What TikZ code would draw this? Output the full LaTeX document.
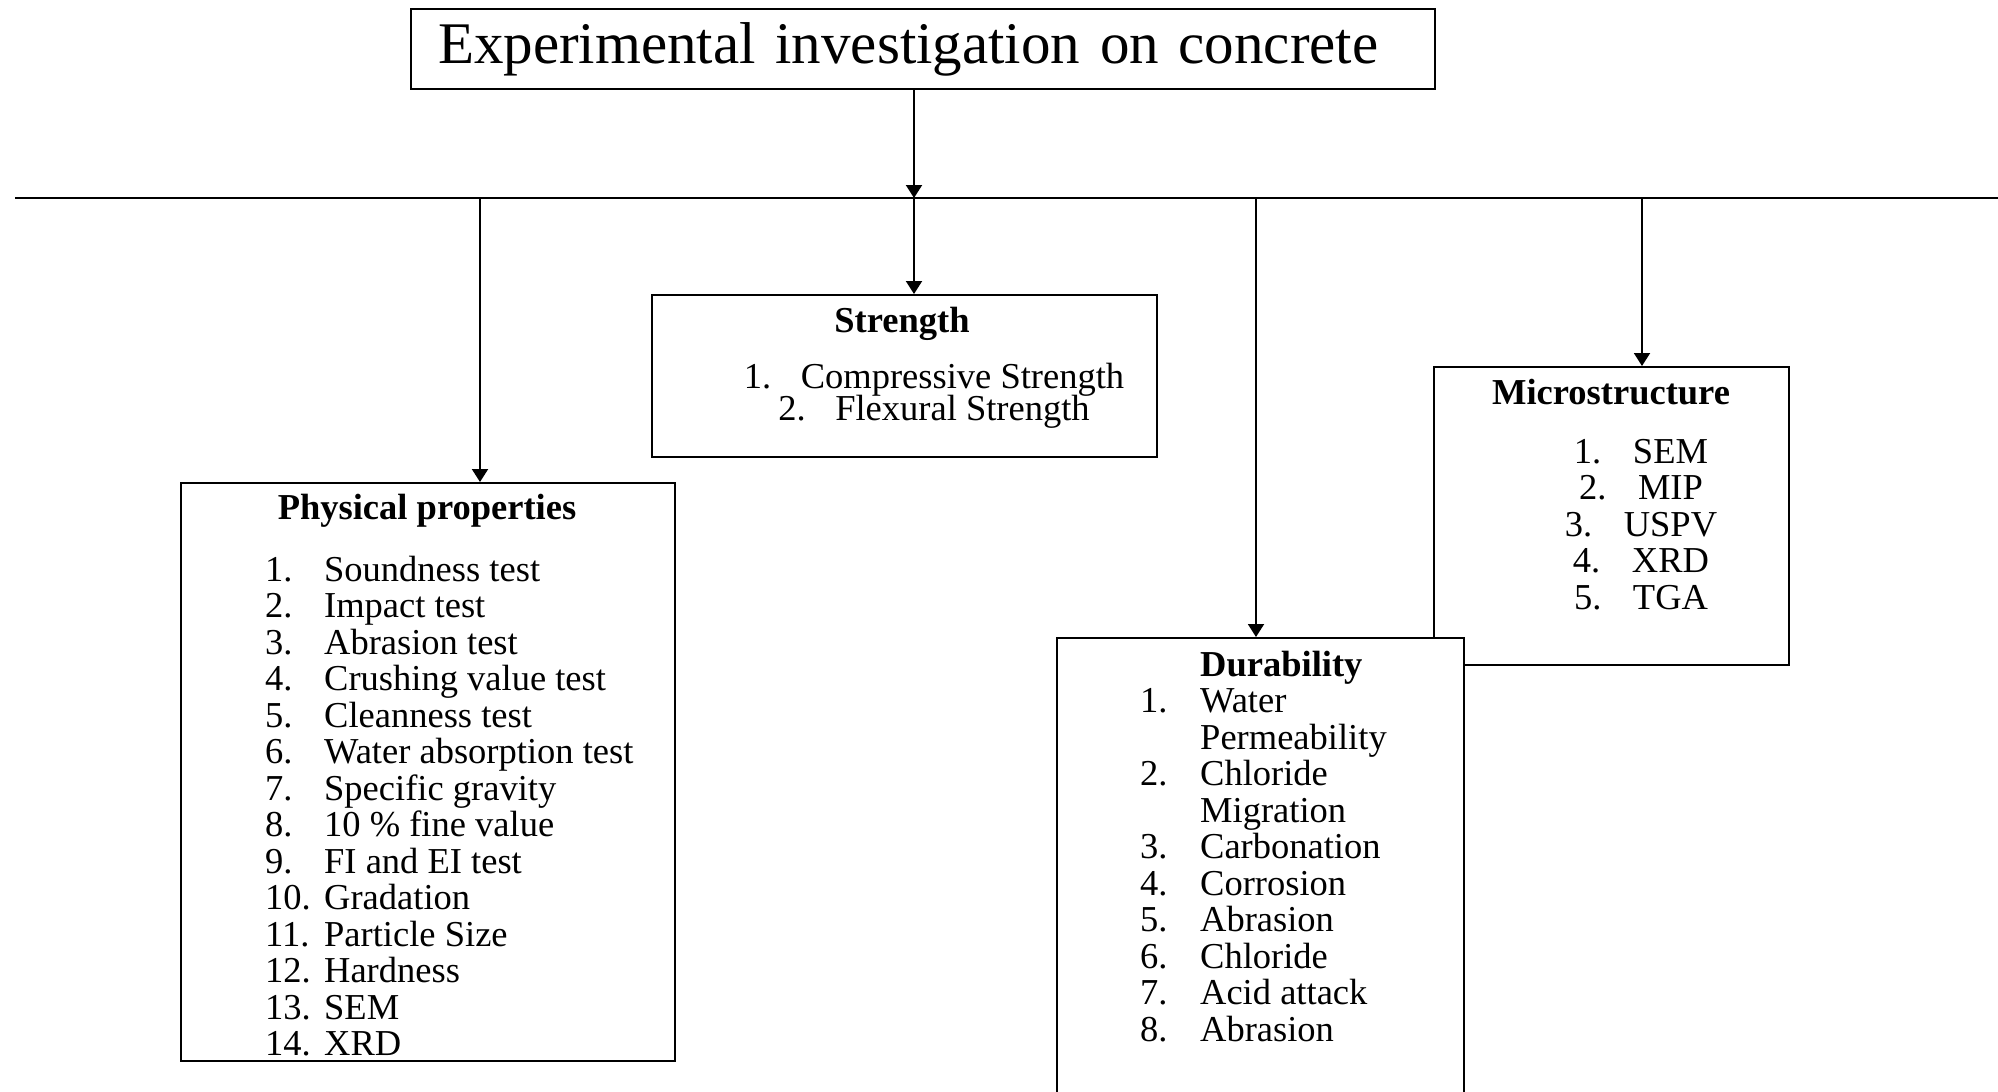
\documentclass[tikz,border=0pt]{standalone}
\usepackage{fontspec}
\setmainfont{Liberation Serif}
\usetikzlibrary{arrows.meta}

\begin{document}
\begin{tikzpicture}[x=1pt,y=-1pt,
        caja/.style={draw,line width=2pt,fill=white,anchor=north west,inner sep=0pt},
        linea/.style={line width=2pt},
        flecha/.style={line width=2pt,-{Triangle[length=13pt,width=16pt]}},
        texto/.style={inner sep=0pt,font=\fontsize{36.5}{36.5}\selectfont},
        negrita/.style={inner sep=0pt,font=\fontsize{36.5}{36.5}\selectfont\bfseries}] %Ensayos sobre hormigon
            \useasboundingbox (0,0) rectangle (1998,1092);
            \clip (0,0) rectangle (1998,1092);

            \node[caja,minimum width=1024pt,minimum height=80pt,text width=970pt,align=left,
                inner xsep=27pt,font=\fontsize{59}{60}\selectfont] (tit) at (410,8) {Experimental investigation on concrete};

            \coordinate (izq) at (15,198);
            \coordinate (der) at (1998,198);
            \coordinate (b1) at (480,198);
            \coordinate (b2) at (914,198);
            \coordinate (b3) at (1256,198);
            \coordinate (b4) at (1642,198);

            \draw[linea] (izq) -- (der);
            \draw[flecha] (tit.south -| b2) -- (b2);

            % cajas
            \node[caja,minimum width=494pt,minimum height=578pt] (fis) at (180,482) {};
            \node[caja,minimum width=505pt,minimum height=162pt] (res) at (651,294) {};
            \node[caja,minimum width=355pt,minimum height=298pt] (mic) at (1433,366) {};
            \node[caja,minimum width=407pt,minimum height=470pt] (dur) at (1056,637) {};

            \draw[flecha] (b1) -- (b1 |- fis.north);
            \draw[flecha] (b2) -- (b2 |- res.north);
            \draw[flecha] (b3) -- (b3 |- dur.north);
            \draw[flecha] (b4) -- (b4 |- mic.north);

            % propiedades fisicas
            \node[negrita,anchor=base] (fis-t) at (427,519) {Physical properties};
            \node[texto,anchor=base west] (fis-l) at (265,581) {\begin{tabular}[t]{@{}p{59pt}@{}l@{}}
                1. & Soundness test\\
                2. & Impact test\\
                3. & Abrasion test\\
                4. & Crushing value test\\
                5. & Cleanness test\\
                6. & Water absorption test\\
                7. & Specific gravity\\
                8. & 10 \% fine value\\
                9. & FI and EI test\\
                10. & Gradation\\
                11. & Particle Size\\
                12. & Hardness\\
                13. & SEM\\
                14. & XRD
            \end{tabular}};

            % resistencia
            \node[negrita,anchor=base] (res-t) at (902,332) {Strength};
            \node[texto,anchor=base] (res-l) at (934,388) {\begin{tabular}[t]{@{}c@{}}
                \makebox[57pt][l]{1.}Compressive Strength\\[-4.5pt]
                \makebox[57pt][l]{2.}Flexural Strength
            \end{tabular}};

            % microestructura
            \node[negrita,anchor=base] (mic-t) at (1611,404) {Microstructure};
            \node[texto,anchor=base] (mic-l) at (1641,463) {\begin{tabular}[t]{@{}c@{}}
                \makebox[59pt][l]{1.}SEM\\
                \makebox[59pt][l]{2.}MIP\\
                \makebox[59pt][l]{3.}USPV\\
                \makebox[59pt][l]{4.}XRD\\
                \makebox[59pt][l]{5.}TGA
            \end{tabular}};

            % durabilidad
            \node[texto,anchor=base west] (dur-l) at (1140,676) {\begin{tabular}[t]{@{}p{60pt}@{}l@{}}
                & \textbf{Durability}\\
                1. & Water\\
                & Permeability\\
                2. & Chloride\\
                & Migration\\
                3. & Carbonation\\
                4. & Corrosion\\
                5. & Abrasion\\
                6. & Chloride\\
                7. & Acid attack\\
                8. & Abrasion
            \end{tabular}};
        \end{tikzpicture}
\end{document}
